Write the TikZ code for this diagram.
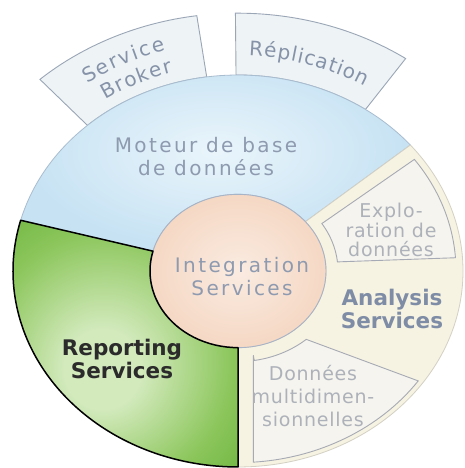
\documentclass[tikz,border=0pt]{standalone}
\usepackage{fontspec}
\setmainfont{DejaVu Sans}
\newfontfamily\lblfont[LetterSpace=12]{DejaVu Sans}
\newfontfamily\lightfont[LetterSpace=4]{DejaVu Sans}
\newfontfamily\tabfont{DejaVu Sans}
\usetikzlibrary{decorations.text}
\definecolor{tabfill}{HTML}{EEF3F6}
\definecolor{tabline}{HTML}{9AA6B6}
\definecolor{tabtext}{HTML}{8592A8}
\definecolor{bluelight}{HTML}{EAF5FB}
\definecolor{bluedark}{HTML}{C6E2F3}
\definecolor{blueline}{HTML}{A9BDD0}
\definecolor{beige}{HTML}{F7F3E2}
\definecolor{beigeline}{HTML}{D3D0C4}
\definecolor{subfill}{HTML}{F5F4EE}
\definecolor{subline}{HTML}{A6AAB4}
\definecolor{subtext}{HTML}{ADB1BA}
\definecolor{peach}{HTML}{F5D8C4}
\definecolor{peachlight}{HTML}{FAEBE1}
\definecolor{innerline}{HTML}{A7B3C6}
\definecolor{gdark}{HTML}{62AE35}
\definecolor{gmid}{HTML}{8CC65C}
\definecolor{glight}{HTML}{D3EABD}
\definecolor{maintext}{HTML}{8E9AAF}
\definecolor{antext}{HTML}{7E8CA6}
\definecolor{reptext}{HTML}{2B2B2B}
\pgfdeclareradialshading{greenrad}{\pgfpoint{-4bp}{-6bp}}{color(0bp)=(glight); color(8bp)=(glight); color(26bp)=(gmid); color(42bp)=(gdark); color(60bp)=(gdark)}
\tikzset{
  tabshape/.style={fill=tabfill, draw=tabline, line width=0.9pt},
  blueseg/.style={shade, inner color=bluelight, outer color=bluedark, draw=blueline, line width=0.8pt},
  beigeseg/.style={fill=beige, draw=beigeline, line width=0.8pt},
  subbox/.style={fill=subfill, draw=subline, line width=0.9pt},
  innerc/.style={shade, inner color=peachlight, outer color=peach, draw=innerline, line width=0.9pt},
  greenseg/.style={shading=greenrad, draw=black, line width=1.5pt, line join=round},
  tabtxt/.style={decorate, decoration={text along path, text={|\tabfont\fontsize{20}{20}\selectfont\color{tabtext}|#1}, text align={fit to path}}},
  mainlbl/.style={font=\lblfont\fontsize{20}{23}\selectfont, text=maintext, align=center, inner sep=0pt},
  boldlbl/.style={font=\bfseries\fontsize{21.5}{23}\selectfont, align=center, inner sep=0pt},
  lightlbl/.style={font=\lightfont\fontsize{19}{21}\selectfont, text=subtext, align=center, inner sep=0pt},
}
\begin{document}
\begin{tikzpicture}[x=1pt,y=1pt]
\useasboundingbox (0,0) rectangle (465,468);
\fill[white] (0,0) rectangle (465,468);
\begin{scope}[shift={(238,197)}, yscale=0.871]
  % tabs
  \path[tabshape] (98:225) -- (98:296) arc[start angle=98,end angle=132,radius=296] -- (132:225) arc[start angle=132,end angle=98,radius=225] -- cycle;
  \path[tabshape] (55.5:225) -- (55.5:296) arc[start angle=55.5,end angle=90.5,radius=296] -- (90.5:225) arc[start angle=90.5,end angle=55.5,radius=225] -- cycle;
  % tab texts
  \path[tabtxt=Service] (125:263) arc[start angle=125,end angle=106,radius=263];
  \path[tabtxt=Broker] (124:237) arc[start angle=124,end angle=106,radius=237];
  \path[tabtxt=Réplication] (87.5:247) arc[start angle=87.5,end angle=59,radius=247];
  % blue sector
  \path[blueseg] (40:88) -- (40:225) arc[start angle=40,end angle=165,radius=225] -- (165:88) arc[start angle=165,end angle=40,radius=88] -- cycle;
  % beige sector
  \path[beigeseg] (-90:88) -- (-90:225) arc[start angle=-90,end angle=40,radius=225] -- (40:88) arc[start angle=40,end angle=-90,radius=88] -- cycle;
  % sub boxes
  \path[subbox] (6:100) -- (4:218) arc[start angle=4,end angle=36,radius=218] -- (33:100) arc[start angle=33,end angle=6,radius=100] -- cycle;
  \path[subbox] (-81:98) -- (-86:220) arc[start angle=-86,end angle=-35,radius=220] -- (-49:104) arc[start angle=-49,end angle=-81,radius=104] -- cycle;
  % inner circle
  \path[innerc] (0,0) circle[radius=88];
  % green sector
  \path[greenseg] (165:88) -- (165:225) arc[start angle=165,end angle=270,radius=225] -- (270:88) arc[start angle=270,end angle=165,radius=88] -- cycle;
\end{scope}
% labels
\node[mainlbl] (moteur) at (206,311.5) {Moteur de base\\de données};
\node[mainlbl] (integ) at (242,191.5) {Integration\\Services};
\node[boldlbl, text=antext] (analysis) at (392,159) {Analysis\\Services};
\node[boldlbl, text=reptext] (reporting) at (122,109.5) {Reporting\\Services};
\node[lightlbl, font=\lightfont\fontsize{19}{19.5}\selectfont] (explo) at (391,238) {Explo-\\ration de\\données};
\node[lightlbl, font=\lightfont\fontsize{19}{23}\selectfont] (donnees) at (313,72) {Données\\multidimen-\\sionnelles};
\end{tikzpicture}
\end{document}
